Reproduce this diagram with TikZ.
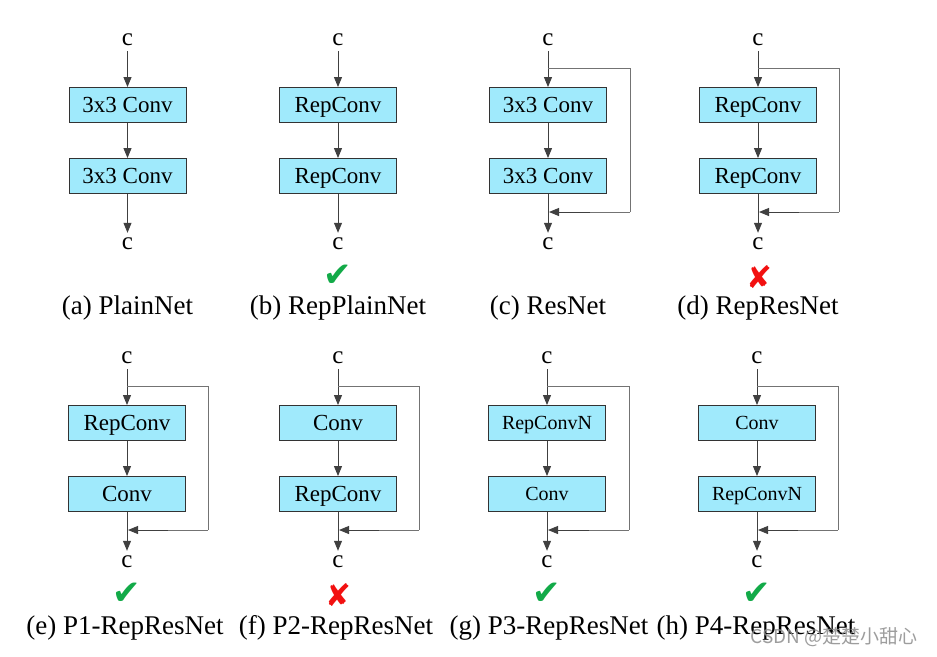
\documentclass[tikz,border=0pt]{standalone}
\usepackage{fontspec}
\setmainfont{Liberation Serif}
\newfontfamily\symfont{DejaVu Sans}
\newfontfamily\cjkfont{Noto Sans CJK SC}
\usetikzlibrary{arrows.meta}

\definecolor{convblue}{HTML}{A0EAFC}
\definecolor{okgreen}{HTML}{12AA48}
\definecolor{badred}{HTML}{F21010}

\tikzset{
  block/.style={draw=black!80, fill=convblue, minimum width=117pt, minimum height=35pt,
                inner sep=0pt, line width=0.9pt, text height=19.5pt, text depth=4.5pt,
                font=\fontsize{23}{26}\selectfont},
  smallblock/.style={block, text height=17pt, text depth=4pt, font=\fontsize{20}{23}\selectfont},
  chan/.style={inner sep=5pt, font=\fontsize{25}{28}\selectfont},
  flow/.style={draw=black!75, line width=0.9pt, -{Triangle[width=8pt,length=10pt]}},
  skip/.style={draw=black!55, line width=0.9pt},
  merge/.style={draw=black!75, line width=0.9pt, -{Triangle[width=8pt,length=10pt]}},
  caption/.style={font=\fontsize{27}{30}\selectfont},
  good/.style={text=okgreen, font=\symfont\fontsize{34}{36}\selectfont},
  bad/.style={text=badred, font=\symfont\fontsize{31}{34}\selectfont},
}

\begin{document}
\begin{tikzpicture}[x=1pt,y=-1pt]
  \useasboundingbox (0,0) rectangle (937,656);

  % Panel (a) PlainNet
  \node[chan]  (aIn)   at (127.5,40)  {c};
  \node[block] (aOne)  at (127.5,105) {3x3 Conv};
  \node[block] (aTwo)  at (127.5,176) {3x3 Conv};
  \node[chan]  (aOut)  at (127.5,244) {c};
  \draw[flow] (aIn) -- (aOne);
  \draw[flow] (aOne) -- (aTwo);
  \draw[flow] (aTwo) -- (aOut);
  \node[caption] (aCap) at (127.5,308) {(a) PlainNet};

  % Panel (b) RepPlainNet
  \node[chan]  (bIn)   at (338,40)  {c};
  \node[block] (bOne)  at (338,105) {RepConv};
  \node[block] (bTwo)  at (338,176) {RepConv};
  \node[chan]  (bOut)  at (338,244) {c};
  \draw[flow] (bIn) -- (bOne);
  \draw[flow] (bOne) -- (bTwo);
  \draw[flow] (bTwo) -- (bOut);
  \node[good]    (bMark) at (338,276) {✔};
  \node[caption] (bCap)  at (338,308) {(b) RepPlainNet};

  % Panel (c) ResNet
  \node[chan]  (cIn)   at (548,40)  {c};
  \node[block] (cOne)  at (548,105) {3x3 Conv};
  \node[block] (cTwo)  at (548,176) {3x3 Conv};
  \node[chan]  (cOut)  at (548,244) {c};
  \draw[flow] (cIn) -- (cOne);
  \draw[flow] (cOne) -- (cTwo);
  \draw[flow] (cTwo) -- (cOut);
  \coordinate (cFork)  at (548,68);
  \coordinate (cFar)   at (630,212);
  \coordinate (cJoin)  at (549,212);
  \draw[skip] (cFork) -| (cFar);
  \draw[skip] (cFar) -- ++(-40,0);
  \draw[merge] ([xshift=-40pt]cFar) -- (cJoin);
  \node[caption] (cCap) at (548,308) {(c) ResNet};

  % Panel (d) RepResNet
  \node[chan]  (dIn)   at (758,40)  {c};
  \node[block] (dOne)  at (758,105) {RepConv};
  \node[block] (dTwo)  at (758,176) {RepConv};
  \node[chan]  (dOut)  at (758,244) {c};
  \draw[flow] (dIn) -- (dOne);
  \draw[flow] (dOne) -- (dTwo);
  \draw[flow] (dTwo) -- (dOut);
  \coordinate (dFork)  at (758,68);
  \coordinate (dFar)   at (839,212);
  \coordinate (dJoin)  at (759,212);
  \draw[skip] (dFork) -| (dFar);
  \draw[skip] (dFar) -- ++(-40,0);
  \draw[merge] ([xshift=-40pt]dFar) -- (dJoin);
  \node[bad]     (dMark) at (759,277) {✘};
  \node[caption] (dCap)  at (758,308) {(d) RepResNet};

  % Panel (e) P1-RepResNet
  \node[chan]  (eIn)   at (127,358) {c};
  \node[block] (eOne)  at (127,423) {RepConv};
  \node[block] (eTwo)  at (127,494) {Conv};
  \node[chan]  (eOut)  at (127,562) {c};
  \draw[flow] (eIn) -- (eOne);
  \draw[flow] (eOne) -- (eTwo);
  \draw[flow] (eTwo) -- (eOut);
  \coordinate (eFork)  at (127,386);
  \coordinate (eFar)   at (208,530);
  \coordinate (eJoin)  at (128,530);
  \draw[skip] (eFork) -| (eFar);
  \draw[skip] (eFar) -- ++(-40,0);
  \draw[merge] ([xshift=-40pt]eFar) -- (eJoin);
  \node[good]    (eMark) at (127,594) {✔};
  \node[caption] (eCap)  at (125,628) {(e) P1-RepResNet};

  % Panel (f) P2-RepResNet
  \node[chan]  (fIn)   at (338,358) {c};
  \node[block] (fOne)  at (338,423) {Conv};
  \node[block] (fTwo)  at (338,494) {RepConv};
  \node[chan]  (fOut)  at (338,562) {c};
  \draw[flow] (fIn) -- (fOne);
  \draw[flow] (fOne) -- (fTwo);
  \draw[flow] (fTwo) -- (fOut);
  \coordinate (fFork)  at (338,386);
  \coordinate (fFar)   at (419,530);
  \coordinate (fJoin)  at (339,530);
  \draw[skip] (fFork) -| (fFar);
  \draw[skip] (fFar) -- ++(-40,0);
  \draw[merge] ([xshift=-40pt]fFar) -- (fJoin);
  \node[bad]     (fMark) at (338,595) {✘};
  \node[caption] (fCap)  at (336,628) {(f) P2-RepResNet};

  % Panel (g) P3-RepResNet
  \node[chan]       (gIn)   at (547,358) {c};
  \node[smallblock] (gOne)  at (547,423) {RepConvN};
  \node[smallblock] (gTwo)  at (547,494) {Conv};
  \node[chan]       (gOut)  at (547,562) {c};
  \draw[flow] (gIn) -- (gOne);
  \draw[flow] (gOne) -- (gTwo);
  \draw[flow] (gTwo) -- (gOut);
  \coordinate (gFork)  at (547,386);
  \coordinate (gFar)   at (629,530);
  \coordinate (gJoin)  at (548,530);
  \draw[skip] (gFork) -| (gFar);
  \draw[skip] (gFar) -- ++(-40,0);
  \draw[merge] ([xshift=-40pt]gFar) -- (gJoin);
  \node[good]    (gMark) at (547,594) {✔};
  \node[caption] (gCap)  at (549,628) {(g) P3-RepResNet};

  % Panel (h) P4-RepResNet
  \node[chan]       (hIn)   at (757,358) {c};
  \node[smallblock] (hOne)  at (757,423) {Conv};
  \node[smallblock] (hTwo)  at (757,494) {RepConvN};
  \node[chan]       (hOut)  at (757,562) {c};
  \draw[flow] (hIn) -- (hOne);
  \draw[flow] (hOne) -- (hTwo);
  \draw[flow] (hTwo) -- (hOut);
  \coordinate (hFork)  at (757,386);
  \coordinate (hFar)   at (838,530);
  \coordinate (hJoin)  at (758,530);
  \draw[skip] (hFork) -| (hFar);
  \draw[skip] (hFar) -- ++(-40,0);
  \draw[merge] ([xshift=-40pt]hFar) -- (hJoin);
  \node[good]    (hMark) at (757,594) {✔};
  \node[caption] (hCap)  at (756,628) {(h) P4-RepResNet};

  % Watermark
  \node[text=black!45, opacity=0.85, font=\cjkfont\fontsize{19}{22}\selectfont]
    (mark) at (834,637) {CSDN @楚楚小甜心};
\end{tikzpicture}
\end{document}
